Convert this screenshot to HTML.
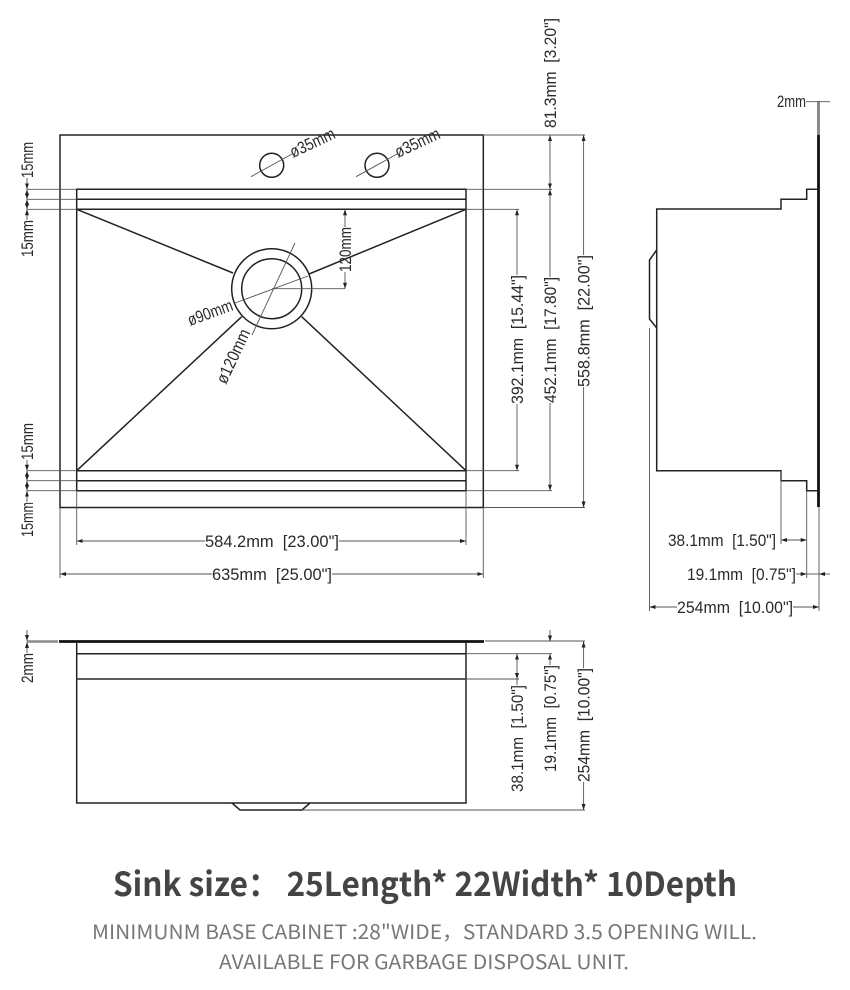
<!DOCTYPE html>
<html><head><meta charset="utf-8"><style>
html,body{margin:0;padding:0;background:#fff}
svg{display:block}
.m{stroke:#222;stroke-width:1.5;fill:none}
.t{stroke:#111;stroke-width:2.8;fill:none}
.d{stroke:#555;stroke-width:.9;fill:none}
.g{stroke:#8a8a8a;fill:none}
.a{marker-start:url(#ar)}
.b{marker-end:url(#ar)}
.x{font-family:"Liberation Sans",sans-serif;font-size:17px;fill:#2a2a2a}
.h{font-family:"Noto Sans CJK SC","Liberation Sans",sans-serif;font-weight:700;font-size:33px;fill:#444}
.s{font-family:"Noto Sans CJK SC","Liberation Sans",sans-serif;font-size:20px;fill:#777}
</style></head><body>
<svg xmlns="http://www.w3.org/2000/svg" width="850" height="990" viewBox="0 0 850 990">
<defs><marker id="ar" viewBox="0 0 6 4" refX="6" refY="2" markerWidth="6" markerHeight="4" markerUnits="userSpaceOnUse" orient="auto-start-reverse"><path d="M0 0L6 2L0 4Z" fill="#222"/></marker></defs>

<!-- top view -->
<rect class="m" x="60" y="135" width="423.3" height="372.5"/>
<path class="m" d="M76.7 189.3H466V490.7H76.7ZM76.7 199.3H466M76.7 209.3H466M76.7 470.7H466M76.7 480.7H466"/>
<path class="m" d="M76.7 209.3L233 273M466 209.3L309 274M76.7 470.7L241.7 316.7M466 470.7L301.7 316.7"/>
<circle class="m" cx="271.7" cy="288.7" r="40"/>
<circle class="m" cx="271.7" cy="288.7" r="30"/>
<circle class="m" cx="271.7" cy="165.3" r="12"/>
<circle class="m" cx="377" cy="165.3" r="12"/>
<path class="d" d="M251 176.7L292 154M356 176.7L397 154M235 303L308 276M252 335L295 243M272 288.7H345"/>
<path class="d" d="M27 189.3H76.7M27 199.3H76.7M27 209.3H76.7M27 470.7H76.7M27 480.7H76.7M27 490.7H76.7"/>
<line class="d b" x1="27" y1="178" x2="27" y2="189.3"/>
<line class="d a b" x1="27" y1="189.3" x2="27" y2="199.3"/>
<line class="d a b" x1="27" y1="199.3" x2="27" y2="209.3"/>
<line class="d a" x1="27" y1="209.3" x2="27" y2="220"/>
<line class="d b" x1="27" y1="460" x2="27" y2="470.7"/>
<line class="d a b" x1="27" y1="470.7" x2="27" y2="480.7"/>
<line class="d a b" x1="27" y1="480.7" x2="27" y2="490.7"/>
<line class="d a" x1="27" y1="490.7" x2="27" y2="502"/>
<line class="d a" x1="345" y1="209.3" x2="345" y2="227"/>
<line class="d b" x1="345" y1="272" x2="345" y2="288.7"/>

<path class="d" d="M483 135H585M466 189.3H552M466 209.3H519M466 470.7H519M466 490.7H552M483 507.5H585"/>
<line class="d a b" x1="550" y1="135" x2="550" y2="189.3"/>
<line class="d a" x1="550" y1="189.3" x2="550" y2="277"/>
<line class="d b" x1="550" y1="403" x2="550" y2="490.7"/>
<line class="d a" x1="517" y1="209.3" x2="517" y2="275"/>
<line class="d b" x1="517" y1="404" x2="517" y2="470.7"/>
<line class="d a" x1="583.6" y1="135" x2="583.6" y2="255"/>
<line class="d b" x1="583.6" y1="387" x2="583.6" y2="507.5"/>
<path class="d" d="M76.7 491V545M466 491V545M60 508V578M483.3 508V578"/>
<line class="d a" x1="76.7" y1="541" x2="205" y2="541"/>
<line class="d b" x1="339" y1="541" x2="466" y2="541"/>
<line class="d a" x1="60" y1="574" x2="212" y2="574"/>
<line class="d b" x1="332" y1="574" x2="483.3" y2="574"/>

<text class="x" transform="translate(33 178) rotate(-90)" textLength="36" lengthAdjust="spacingAndGlyphs">15mm</text>
<text class="x" transform="translate(33 257) rotate(-90)" textLength="37" lengthAdjust="spacingAndGlyphs">15mm</text>
<text class="x" transform="translate(33 460) rotate(-90)" textLength="37" lengthAdjust="spacingAndGlyphs">15mm</text>
<text class="x" transform="translate(33 537) rotate(-90)" textLength="35" lengthAdjust="spacingAndGlyphs">15mm</text>
<text class="x" transform="translate(351 272) rotate(-90)" textLength="45" lengthAdjust="spacingAndGlyphs">120mm</text>
<text class="x" transform="translate(556 128) rotate(-90)" textLength="110" lengthAdjust="spacingAndGlyphs">81.3mm&#160;&#160;[3.20"]</text>
<text class="x" transform="translate(523 404) rotate(-90)" textLength="129" lengthAdjust="spacingAndGlyphs">392.1mm&#160;&#160;[15.44"]</text>
<text class="x" transform="translate(556 403) rotate(-90)" textLength="126" lengthAdjust="spacingAndGlyphs">452.1mm&#160;&#160;[17.80"]</text>
<text class="x" transform="translate(589.5 387) rotate(-90)" textLength="132" lengthAdjust="spacingAndGlyphs">558.8mm&#160;&#160;[22.00"]</text>
<text class="x" x="205" y="547" textLength="134" lengthAdjust="spacingAndGlyphs">584.2mm&#160;&#160;[23.00"]</text>
<text class="x" x="212" y="580" textLength="120" lengthAdjust="spacingAndGlyphs">635mm&#160;&#160;[25.00"]</text>
<text class="x" transform="translate(293 158) rotate(-25)" textLength="48" lengthAdjust="spacingAndGlyphs">ø35mm</text>
<text class="x" transform="translate(398 158) rotate(-25)" textLength="48" lengthAdjust="spacingAndGlyphs">ø35mm</text>
<text class="x" transform="translate(190 326) rotate(-20)" textLength="47" lengthAdjust="spacingAndGlyphs">ø90mm</text>
<text class="x" transform="translate(226 385) rotate(-65)" textLength="58" lengthAdjust="spacingAndGlyphs">ø120mm</text>

<!-- side view -->
<path class="g" stroke-width="3" d="M818.5 101V135"/>
<path class="t" d="M818.5 135V507"/>
<path class="m" d="M818 189.3H806.7V199.3H781V209H656.7V470.7H781V480.7H806.7V490.7H818"/>
<path class="m" d="M656.7 250L649.5 260V319L656.7 328"/>
<path class="d" d="M649.5 328V611M781 471V544M806.7 491V578M819 507V611"/>
<line class="d" x1="806" y1="101.7" x2="830" y2="101.7"/>
<text class="x" x="777" y="107" textLength="29" lengthAdjust="spacingAndGlyphs">2mm</text>
<line class="d a b" x1="781" y1="540" x2="806.7" y2="540"/>
<line class="d b" x1="796" y1="574" x2="806.7" y2="574"/>
<line class="d a" x1="819" y1="574" x2="830" y2="574"/>
<line class="d" x1="806.7" y1="574" x2="819" y2="574"/>
<line class="d a" x1="649.5" y1="607" x2="677" y2="607"/>
<line class="d b" x1="793" y1="607" x2="819" y2="607"/>
<text class="x" x="668" y="546" textLength="108" lengthAdjust="spacingAndGlyphs">38.1mm&#160;&#160;[1.50"]</text>
<text class="x" x="687" y="580" textLength="109" lengthAdjust="spacingAndGlyphs">19.1mm&#160;&#160;[0.75"]</text>
<text class="x" x="677" y="613" textLength="116" lengthAdjust="spacingAndGlyphs">254mm&#160;&#160;[10.00"]</text>

<!-- front view -->
<path class="g" stroke-width="2.5" d="M27 641.5H58"/>
<path class="t" d="M59 641.5H484"/>
<path class="d" d="M485 641H585"/>
<path class="m" d="M76.7 641.5V803H466V641.5"/>
<path class="m" d="M76.7 653.7H466"/>
<path class="t" style="stroke-width:1.7;stroke:#444" d="M76.7 679H466"/>
<path class="m" d="M232 803L240 810H302L310 803"/>
<path class="d" d="M466 653.7H552M466 679H519M302 810H585"/>
<line class="d b" x1="27" y1="630" x2="27" y2="641"/>
<line class="d a" x1="27" y1="642" x2="27" y2="653"/>
<text class="x" transform="translate(33 683) rotate(-90)" textLength="30" lengthAdjust="spacingAndGlyphs">2mm</text>
<line class="d a b" x1="517" y1="653.7" x2="517" y2="679"/>
<line class="d" x1="517" y1="679" x2="517" y2="685"/>
<line class="d b" x1="550" y1="630" x2="550" y2="641.5"/>
<line class="d b" x1="550" y1="665" x2="550" y2="653.7"/>
<line class="d a" x1="583.6" y1="641.5" x2="583.6" y2="668"/>
<line class="d b" x1="583.6" y1="782" x2="583.6" y2="810"/>
<text class="x" transform="translate(523 792) rotate(-90)" textLength="107" lengthAdjust="spacingAndGlyphs">38.1mm&#160;&#160;[1.50"]</text>
<text class="x" transform="translate(556 772) rotate(-90)" textLength="107" lengthAdjust="spacingAndGlyphs">19.1mm&#160;&#160;[0.75"]</text>
<text class="x" transform="translate(589.5 782) rotate(-90)" textLength="114" lengthAdjust="spacingAndGlyphs">254mm&#160;&#160;[10.00"]</text>

<!-- caption -->
<text class="h" x="113" y="896" textLength="624" lengthAdjust="spacingAndGlyphs">Sink size： 25Length* 22Width* 10Depth</text>
<text class="s" x="92" y="939" textLength="665" lengthAdjust="spacingAndGlyphs">MINIMUNM BASE CABINET :28"WIDE，STANDARD 3.5 OPENING WILL.</text>
<text class="s" x="219" y="969" textLength="410" lengthAdjust="spacingAndGlyphs">AVAILABLE FOR GARBAGE DISPOSAL UNIT.</text>
</svg>
</body></html>
